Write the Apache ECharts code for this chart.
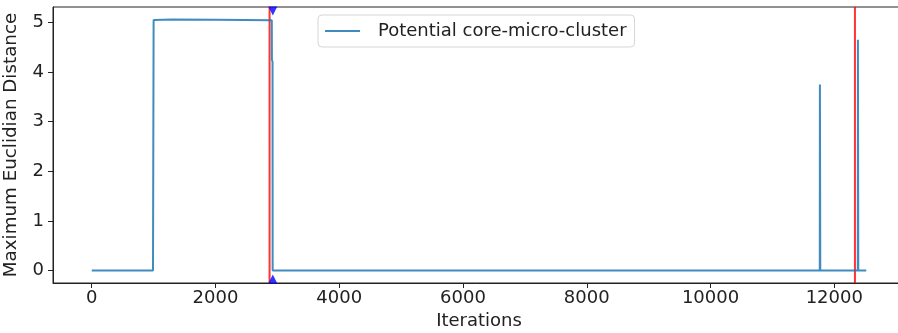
<!DOCTYPE html>
<html>
<head>
<meta charset="utf-8">
<script src="https://cdn.jsdelivr.net/npm/echarts@6/dist/echarts.min.js"></script>
<style>html,body{margin:0;padding:0;background:#fff}#c{width:898px;height:333px}</style>
</head>
<body>
<div id="c"></div>
<script>
// Potential core-micro-cluster: [iteration, max euclidian distance]
const clusterX = [0, 990, 1000, 1300, 2000, 2910, 2912, 2922, 2924, 11766, 11768, 11772, 11774, 12380, 12382, 12386, 12388, 12517];
const clusterY = [0, 0, 5.05, 5.06, 5.055, 5.045, 4.25, 4.2, 0, 0, 3.75, 3.75, 0, 0, 4.65, 4.65, 0, 0];
// red vertical markers (iterations)
const redLinesX = [2874, 12334];
// blue triangle markers
const triangleX = [2926];
const xTicks = [0, 2000, 4000, 6000, 8000, 10000, 12000];
const yTicks = [0, 1, 2, 3, 4, 5];
const xMin = -626, xMax = 13143, yMin = -0.253, yMax = 5.31;

const font = 'DejaVu Sans';
const series = [{
  name: 'Potential core-micro-cluster',
  type: 'line',
  data: clusterX.map((x, i) => [x, clusterY[i]]),
  symbol: 'none',
  lineStyle: {color: '#1f77b4', width: 2, opacity: 0.85},
  itemStyle: {color: '#1f77b4'},
  z: 3
}];
redLinesX.forEach(x => series.push({
  type: 'line', data: [[x, yMin], [x, yMax]], symbol: 'none',
  lineStyle: {color: '#ff0000', width: 2, opacity: 0.8}, z: 2, silent: true
}));
series.push({
  type: 'scatter', clip: false,
  data: triangleX.map(x => [x, yMax]),
  symbol: 'triangle', symbolRotate: 180, symbolSize: [9, 9], symbolOffset: [0, 4],
  itemStyle: {color: '#0000ff'}, z: 4
});
series.push({
  type: 'scatter', clip: false,
  data: triangleX.map(x => [x, yMin]),
  symbol: 'triangle', symbolSize: [9, 9], symbolOffset: [0, -4],
  itemStyle: {color: '#0000ff'}, z: 4
});

const chart = echarts.init(document.getElementById('c'));
chart.setOption({
  animation: false,
  grid: {left: 53, right: -7, top: 7, bottom: 50, containLabel: false, outerBoundsMode: 'none',
         show: true, borderColor: '#222', borderWidth: 1},
  legend: {
    data: [{name: 'Potential core-micro-cluster', icon: 'rect', itemStyle: {opacity: 0.85}}],
    left: 318, top: 15,
    padding: [7, 8, 7, 7],
    itemWidth: 35, itemHeight: 2,
    backgroundColor: '#fff',
    borderColor: '#d5d5d5', borderWidth: 1, borderRadius: 4,
    textStyle: {fontFamily: font, fontSize: 18, color: '#222', padding: [0, 0, 0, 13], lineHeight: 18}
  },
  xAxis: {
    type: 'value', min: xMin, max: xMax,
    name: 'Iterations', nameLocation: 'middle', nameGap: 27,
    nameTextStyle: {fontFamily: font, fontSize: 18, color: '#222'},
    axisLine: {show: true, onZero: false, lineStyle: {color: '#222', width: 1}},
    axisTick: {show: true, length: 5, customValues: xTicks, lineStyle: {color: '#222'}},
    axisLabel: {customValues: xTicks, formatter: v => String(v), fontFamily: font, fontSize: 18, color: '#222', margin: 6},
    splitLine: {show: false}
  },
  yAxis: {
    type: 'value', min: yMin, max: yMax,
    name: 'Maximum Euclidian Distance', nameLocation: 'middle', nameGap: 33,
    nameTextStyle: {fontFamily: font, fontSize: 18.3, color: '#222'},
    axisLine: {show: true, onZero: false, lineStyle: {color: '#222', width: 1}},
    axisTick: {show: true, length: 5, customValues: yTicks, lineStyle: {color: '#222'}},
    axisLabel: {customValues: yTicks, formatter: v => String(v), fontFamily: font, fontSize: 18, color: '#222', margin: 9},
    splitLine: {show: false}
  },
  series: series
});
</script>
</body>
</html>
